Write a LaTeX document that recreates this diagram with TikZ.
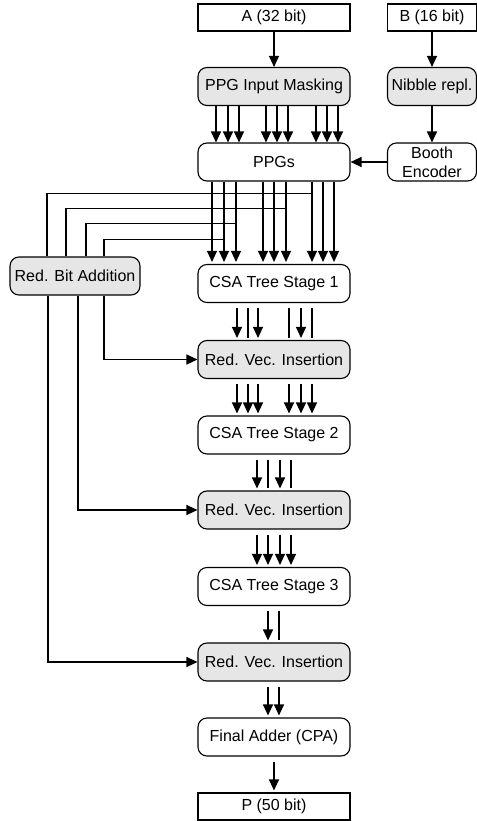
\documentclass[tikz,border=0pt]{standalone}
\usepackage{fontspec}
\setmainfont{Liberation Sans}
\usetikzlibrary{arrows.meta,positioning}
\definecolor{boxgrey}{RGB}{230,230,230}

\begin{document}
\begin{tikzpicture}
  [x=1bp,y=-1bp,line width=1.1bp,
   font=\fontsize{16bp}{19bp}\selectfont,
   >={Triangle[length=11bp,width=10bp]},
   ioN/.style={draw,rectangle,minimum width=152bp,minimum height=27bp,inner sep=0pt},
   blockN/.style={draw,rounded corners=9bp,minimum width=152bp,minimum height=38bp,inner sep=0pt,align=center},
   greyN/.style={blockN,fill=boxgrey},
   smallN/.style={minimum width=89bp},
   busN/.style={shorten <=5bp,shorten >=2bp}]

  \useasboundingbox (0,0) rectangle (477,821);

  \node[ioN]          (a)     at (274,17.5) {A (32 bit)};
  \node[ioN,smallN]   (b)     at (432,17.5) {B (16 bit)};
  \node[greyN]        (mask)  at (274,86.5) {PPG Input Masking};
  \node[greyN,smallN] (nib)   at (432,86.5) {Nibble repl.};
  \node[blockN]       (ppg)   at (274,162)  {PPGs};
  \node[blockN,smallN] (booth) at (432,162) {Booth\\Encoder};
  \node[greyN,minimum width=130bp] (rba) at (75,276) {Red. Bit Addition};

  \node[blockN] (csa1) at (274,283.5) {CSA Tree Stage 1};
  \node[greyN]  (rvi1) at (274,359.5) {Red. Vec. Insertion};
  \node[blockN] (csa2) at (274,435)   {CSA Tree Stage 2};
  \node[greyN]  (rvi2) at (274,510)   {Red. Vec. Insertion};
  \node[blockN] (csa3) at (274,586.5) {CSA Tree Stage 3};
  \node[greyN]  (rvi3) at (274,662)   {Red. Vec. Insertion};
  \node[blockN] (cpa)  at (274,737)   {Final Adder (CPA)};
  \node[ioN]    (p)    at (274,806.5) {P (50 bit)};

  \draw [->] (a) -- (mask);
  \draw [->] (b) -- (nib);
  \draw [->] (nib) -- (booth);
  \draw [->] (booth) -- (ppg);

  % masked operand bits into the PPGs
  \foreach \dx in {-58,-46,-35,-8,3,14,42,53,64}
    \draw [->] ([xshift=\dx bp]mask.south) -- ([xshift=\dx bp]ppg.north);

  % partial products into stage 1
  \foreach \dx in {-62,-50,-38,-11,0,12,38,49,60}
    \draw [->,shorten >=2bp] ([xshift=\dx bp]ppg.south) -- ([xshift=\dx bp]csa1.north);

  % taps to the redundant bit addition
  \draw ([xshift=-28bp]rba.north) |- ([xshift=38bp,yshift=-12bp]ppg.south);
  \draw ([xshift=-9bp]rba.north)  |- ([xshift=12bp,yshift=-27bp]ppg.south);
  \draw ([xshift=11bp]rba.north)  |- ([xshift=-38bp,yshift=-42bp]ppg.south);
  \draw ([xshift=29bp]rba.north)  |- ([xshift=-50bp,yshift=-58bp]ppg.south);

  \draw [->] ([xshift=29bp]rba.south)  |- (rvi1);
  \draw [->] ([xshift=3bp]rba.south)   |- (rvi2);
  \draw [->] ([xshift=-27bp]rba.south) |- (rvi3);

  % tree stages
  \foreach \dx/\tip in {-37/->,-26/-,-16/->,15/-,27/->,38/-}
    \draw [\tip,busN] ([xshift=\dx bp]csa1.south) -- ([xshift=\dx bp]rvi1.north);
  \foreach \dx in {-37,-26,-16,15,27,38}
    \draw [->,busN] ([xshift=\dx bp]rvi1.south) -- ([xshift=\dx bp]csa2.north);
  \foreach \dx/\tip in {-17/->,-6/-,6/->,17/-}
    \draw [\tip,busN] ([xshift=\dx bp]csa2.south) -- ([xshift=\dx bp]rvi2.north);
  \foreach \dx in {-17,-6,6,17}
    \draw [->,busN] ([xshift=\dx bp]rvi2.south) -- ([xshift=\dx bp]csa3.north);
  \foreach \dx/\tip in {-6/->,5/-}
    \draw [\tip,busN] ([xshift=\dx bp]csa3.south) -- ([xshift=\dx bp]rvi3.north);
  \foreach \dx in {-6,5}
    \draw [->,busN] ([xshift=\dx bp]rvi3.south) -- ([xshift=\dx bp]cpa.north);

  \draw [->,busN] (cpa) -- (p);

\end{tikzpicture}
\end{document}
